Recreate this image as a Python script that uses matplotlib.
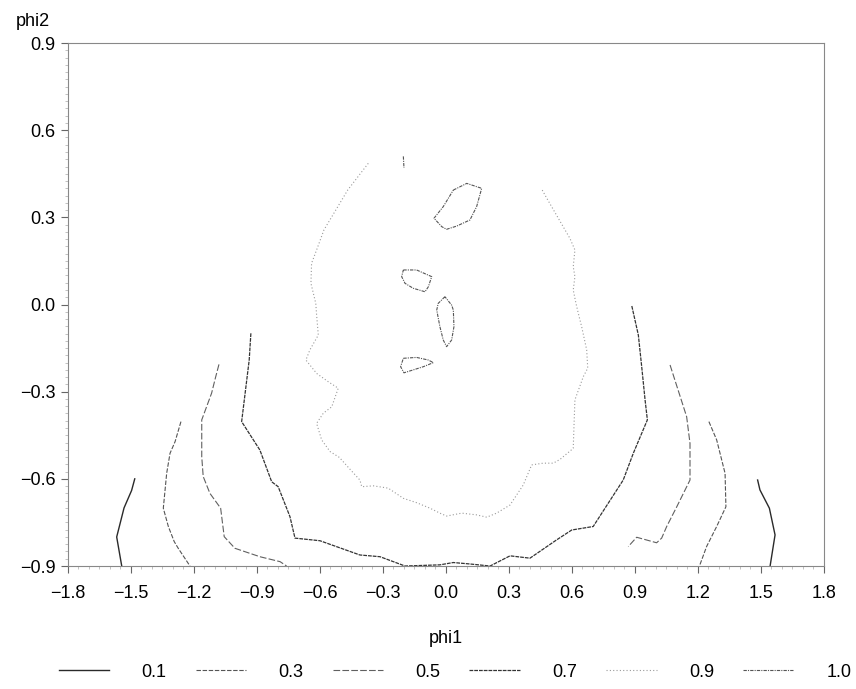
import matplotlib
matplotlib.use("Agg")
import matplotlib.pyplot as plt
from matplotlib.ticker import MultipleLocator, FuncFormatter

plt.rcParams['font.family'] = ['Liberation Sans', 'DejaVu Sans']

# contour levels and their legend labels
levels = ["0.1", "0.3", "0.5", "0.7", "0.9", "1.0"]

# level 0.1
c01_left_x = [-1.544, -1.568, -1.533, -1.497, -1.482]
c01_left_y = [-0.90, -0.80, -0.70, -0.64, -0.60]
c01_right_x = [1.484, 1.495, 1.540, 1.567, 1.543]
c01_right_y = [-0.604, -0.638, -0.701, -0.793, -0.902]

# level 0.3
c03_left_x = [-1.262, -1.290, -1.314, -1.330, -1.346, -1.322, -1.294, -1.275, -1.219]
c03_left_y = [-0.403, -0.472, -0.512, -0.581, -0.701, -0.764, -0.816, -0.839, -0.90]
c03_right_x = [1.252, 1.289, 1.329, 1.333, 1.289, 1.241, 1.206]
c03_right_y = [-0.403, -0.466, -0.581, -0.696, -0.764, -0.833, -0.902]

# level 0.5
c05_left_x = [-1.081, -1.097, -1.116, -1.163, -1.163, -1.156, -1.124, -1.073,
              -1.056, -1.005, -0.886, -0.790, -0.759]
c05_left_y = [-0.206, -0.250, -0.305, -0.397, -0.524, -0.592, -0.650, -0.701,
              -0.799, -0.839, -0.868, -0.885, -0.90]
c05_right_x = [1.067, 1.146, 1.162, 1.162, 1.099, 1.051, 1.027, 1.003, 0.908, 0.868]
c05_right_y = [-0.208, -0.386, -0.478, -0.604, -0.696, -0.764, -0.804, -0.820, -0.801, -0.833]

# level 0.7
c07_x = [-0.929, -0.937, -0.973, -0.886, -0.830, -0.799, -0.743, -0.719, -0.600,
         -0.410, -0.314, -0.195, -0.029, 0.035, 0.114, 0.210, 0.305, 0.400, 0.527,
         0.599, 0.701, 0.844, 0.892, 0.959, 0.948, 0.932, 0.916, 0.884]
c07_y = [-0.099, -0.191, -0.403, -0.501, -0.610, -0.627, -0.730, -0.804, -0.813,
         -0.862, -0.868, -0.900, -0.896, -0.888, -0.893, -0.900, -0.865, -0.873, -0.810,
         -0.776, -0.764, -0.604, -0.512, -0.397, -0.328, -0.214, -0.105, -0.002]

# level 0.9
c09_x = [-0.370, -0.468, -0.581, -0.616, -0.640, -0.643, -0.620, -0.616, -0.608,
         -0.648, -0.667, -0.616, -0.560, -0.513, -0.544, -0.584, -0.616, -0.592,
         -0.552, -0.508, -0.457, -0.410, -0.401, -0.346, -0.275, -0.203, -0.140,
         -0.076, -0.029, 0.003, 0.075, 0.146, 0.194, 0.241, 0.305, 0.368, 0.408,
         0.463, 0.511, 0.543, 0.606, 0.610, 0.614, 0.654, 0.675, 0.670, 0.646,
         0.630, 0.619, 0.606, 0.614, 0.606, 0.614, 0.590, 0.503, 0.480, 0.456]
c09_y = [0.486, 0.394, 0.257, 0.188, 0.142, 0.073, 0.004, -0.036, -0.105,
         -0.156, -0.191, -0.237, -0.266, -0.288, -0.352, -0.374, -0.409, -0.466,
         -0.506, -0.526, -0.567, -0.604, -0.627, -0.624, -0.632, -0.667, -0.682,
         -0.701, -0.718, -0.728, -0.718, -0.724, -0.732, -0.718, -0.690, -0.621, -0.552,
         -0.546, -0.546, -0.533, -0.495, -0.409, -0.328, -0.248, -0.219, -0.156, -0.076,
         -0.030, 0.004, 0.050, 0.096, 0.130, 0.188, 0.228, 0.337, 0.366, 0.397]

# level 1.0
c10_a_x = [0.035, 0.099, 0.170, 0.146, 0.114, 0.051, 0.003, -0.020, -0.057, -0.013, 0.035]
c10_a_y = [0.394, 0.417, 0.400, 0.337, 0.291, 0.270, 0.259, 0.268, 0.297, 0.337, 0.394]
c10_b_x = [-0.203, -0.140, -0.068, -0.084, -0.100, -0.156, -0.195, -0.211, -0.203]
c10_b_y = [0.119, 0.119, 0.096, 0.061, 0.044, 0.056, 0.073, 0.096, 0.119]
c10_c_x = [-0.005, -0.037, -0.044, -0.029, -0.013, 0.003, 0.027, 0.038, 0.035, 0.027, -0.005]
c10_c_y = [0.027, 0.004, -0.019, -0.076, -0.122, -0.145, -0.122, -0.076, -0.019, -0.002, 0.027]
c10_d_x = [-0.203, -0.140, -0.084, -0.060, -0.108, -0.156, -0.200, -0.216, -0.203]
c10_d_y = [-0.185, -0.182, -0.191, -0.200, -0.214, -0.225, -0.235, -0.214, -0.185]
c10_e_x = [-0.203, -0.200]
c10_e_y = [0.51, 0.47]

x_ticks = [-1.8, -1.5, -1.2, -0.9, -0.6, -0.3, 0.0, 0.3, 0.6, 0.9, 1.2, 1.5, 1.8]
y_ticks = [-0.9, -0.6, -0.3, 0.0, 0.3, 0.6, 0.9]

styles = {
    "0.1": dict(color="#2a2a2a", linestyle="-", linewidth=1.0),
    "0.3": dict(color="#555555", linestyle=(0, (4, 1.5)), linewidth=0.8),
    "0.5": dict(color="#606060", linestyle=(0, (6, 2)), linewidth=0.8),
    "0.7": dict(color="#333333", linestyle=(0, (3, 0.8)), linewidth=0.9),
    "0.9": dict(color="#9a9a9a", linestyle=(0, (1, 2)), linewidth=0.8),
    "1.0": dict(color="#555555", linestyle=(0, (3, 1, 1, 1)), linewidth=0.8),
}

series = {
    "0.1": [(c01_left_x, c01_left_y), (c01_right_x, c01_right_y)],
    "0.3": [(c03_left_x, c03_left_y), (c03_right_x, c03_right_y)],
    "0.5": [(c05_left_x, c05_left_y), (c05_right_x, c05_right_y)],
    "0.7": [(c07_x, c07_y)],
    "0.9": [(c09_x, c09_y)],
    "1.0": [(c10_a_x, c10_a_y), (c10_b_x, c10_b_y), (c10_c_x, c10_c_y),
            (c10_d_x, c10_d_y), (c10_e_x, c10_e_y)],
}

fig = plt.figure(figsize=(8.56, 6.89), dpi=100)
ax = fig.add_axes([0.0794, 0.1785, 0.8832, 0.759])

handles = []
for lev in levels:
    for i, (xs, ys) in enumerate(series[lev]):
        ln, = ax.plot(xs, ys, label=lev if i == 0 else None, **styles[lev])
        if i == 0:
            handles.append(ln)


def fmt(v, pos):
    s = "%.1f" % v
    if s == "-0.0":
        s = "0.0"
    return s.replace("-", "\u2212")


ax.set_xlim(-1.8, 1.8)
ax.set_ylim(-0.9, 0.9)
ax.set_xticks(x_ticks)
ax.set_yticks(y_ticks)
ax.xaxis.set_major_formatter(FuncFormatter(fmt))
ax.yaxis.set_major_formatter(FuncFormatter(fmt))
ax.xaxis.set_minor_locator(MultipleLocator(0.05))
ax.yaxis.set_minor_locator(MultipleLocator(0.025))
ax.tick_params(axis='both', which='major', direction='out', length=5, width=0.8,
               color='#666666', labelsize=13)
ax.tick_params(axis='x', which='major', pad=9)
ax.tick_params(axis='y', which='major', pad=4)
ax.tick_params(axis='both', which='minor', direction='out', length=2, width=0.5,
               color='#aaaaaa')
for s in ax.spines.values():
    s.set_color('#888888')
    s.set_linewidth(0.8)

ax.set_xlabel("phi1", fontsize=13, labelpad=20)
fig.text(33 / 856, 1 - 21 / 689, "phi2", fontsize=13, ha='center', va='center')

ax.legend(handles=handles, loc='center', bbox_to_anchor=(0.512, -0.203),
          ncol=6, frameon=False, fontsize=13, handlelength=2.8,
          handletextpad=1.8, columnspacing=1.6)

fig.savefig("out.png", dpi=100)
